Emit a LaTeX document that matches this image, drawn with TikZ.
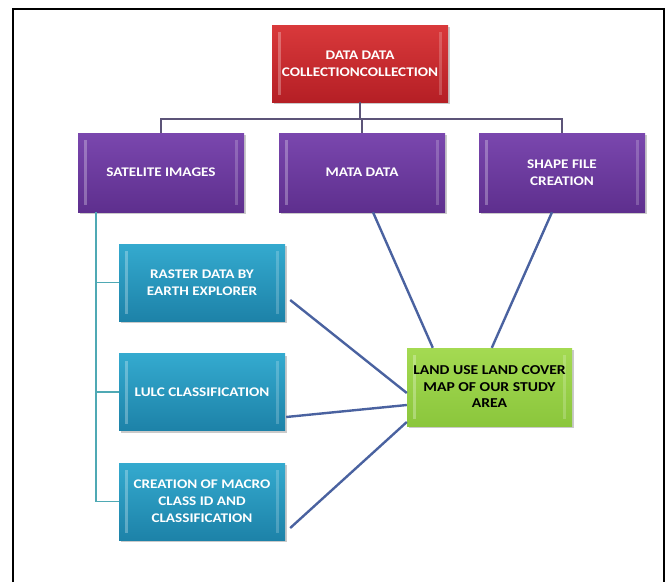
\documentclass[tikz,border=0pt]{standalone}
\usepackage{fontspec}
\setmainfont{Carlito}[FakeStretch=1.15]
\usetikzlibrary{shadows,calc}
\definecolor{redTop}{HTML}{D9393B}
\definecolor{redBot}{HTML}{B51F25}
\definecolor{purTop}{HTML}{7A47AE}
\definecolor{purBot}{HTML}{5E2F8E}
\definecolor{tealTop}{HTML}{34AACF}
\definecolor{tealBot}{HTML}{1D82A8}
\definecolor{grnTop}{HTML}{A4DA52}
\definecolor{grnBot}{HTML}{8BC63C}
\definecolor{linkcol}{HTML}{4A62A0}
\definecolor{buscol}{HTML}{5C5478}
\definecolor{treecol}{HTML}{4FA9B4}
\tikzset{
  basebox/.style={rectangle, inner sep=1pt, align=center,
    font=\bfseries\fontsize{13.2}{17}\selectfont,
    minimum width=166pt, minimum height=77pt,
    drop shadow={shadow xshift=1.5pt, shadow yshift=-2pt, opacity=0.35, fill=black!60},
    path picture={
      \fill[white,opacity=0.28] ([xshift=6pt,yshift=-7pt]path picture bounding box.north west) rectangle ([xshift=9pt,yshift=7pt]path picture bounding box.south west);
      \fill[white,opacity=0.2] ([xshift=-9pt,yshift=-7pt]path picture bounding box.north east) rectangle ([xshift=-6pt,yshift=7pt]path picture bounding box.south east);
    }},
  redbox/.style={basebox, minimum width=176pt, top color=redTop, bottom color=redBot, text=white},
  purbox/.style={basebox, minimum height=79pt, top color=purTop, bottom color=purBot, text=white},
  tealbox/.style={basebox, top color=tealTop, bottom color=tealBot, text=white},
  grnbox/.style={basebox, minimum width=165pt, minimum height=78pt, top color=grnTop, bottom color=grnBot, text=black,
    font=\bfseries\fontsize{13.6}{16.5}\selectfont},
  busline/.style={draw=buscol, line width=1.4pt},
  treeline/.style={draw=treecol, line width=1.4pt},
  link/.style={draw=linkcol, line width=2.4pt}
}
\begin{document}
\begin{tikzpicture}[x=1pt,y=-1pt]
\useasboundingbox (0,0) rectangle (670,582);
\draw[black, line width=1.5pt] (13,582) -- (13,9) -- (664,9) -- (664,582);

\node[redbox] (dc) at (360,63.5) {DATA DATA\\COLLECTIONCOLLECTION};
\node[purbox] (sat) at (161,172.5) {SATELITE IMAGES};
\node[purbox] (mata) at (362,172.5) {MATA DATA};
\node[purbox] (shape) at (562,172.5) {SHAPE FILE\\CREATION};
\node[tealbox] (ra) at (202,282.5) {RASTER DATA BY\\EARTH EXPLORER};
\node[tealbox] (lulc) at (202,392) {LULC CLASSIFICATION};
\node[tealbox] (cr) at (202,501.5) {CREATION OF MACRO\\CLASS ID AND\\CLASSIFICATION};
\node[grnbox] (lu) at (489.5,387) {LAND USE LAND COVER\\MAP OF OUR STUDY\\AREA};

\coordinate (bus) at (0,119);
\draw[busline] (dc.south) -- (dc.south |- bus);
\draw[busline] (sat.north) -- (sat.north |- bus) -- (shape.north |- bus) -- (shape.north);
\draw[busline] (mata.north) -- (mata.north |- bus);

\coordinate (trunk) at (96,0);
\draw[treeline] (sat.south -| trunk) |- (cr.west);
\draw[treeline] (trunk |- ra.west) -- (ra.west);
\draw[treeline] (trunk |- lulc.west) -- (lulc.west);

\draw[link] ($(mata.south)+(11,0)$) -- ($(lu.north west)+(26,0)$);
\draw[link] ($(shape.south)+(-10,0)$) -- ($(lu.north west)+(85,0)$);
\draw[link] ($(ra.east)+(5,17.5)$) -- ($(lu.west)+(0,6)$);
\draw[link] ($(lulc.east)+(1,25)$) -- ($(lu.west)+(0,18)$);
\draw[link] ($(cr.east)+(5,26.5)$) -- ($(lu.west)+(0,35)$);
\end{tikzpicture}
\end{document}
